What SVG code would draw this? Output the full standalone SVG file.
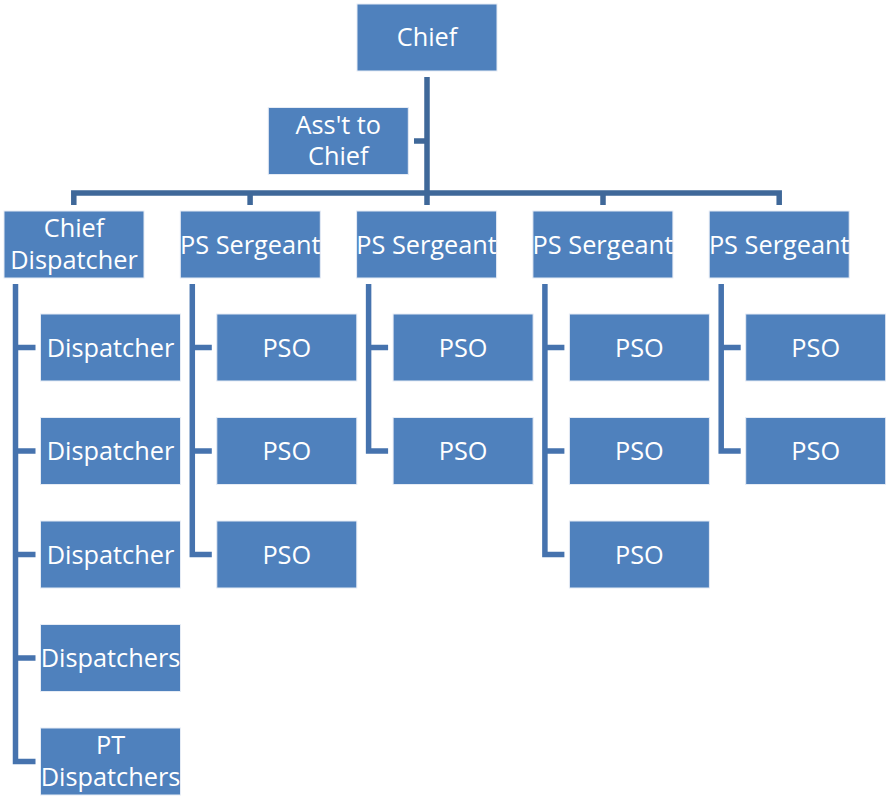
<svg xmlns="http://www.w3.org/2000/svg" width="886" height="796" viewBox="0 0 886 796">
<style>
.box{fill:#4F81BD;stroke:#E6ECF5;stroke-width:1}
.t{font-family:"Open Sans","Liberation Sans",sans-serif;font-size:25.3px;fill:#FFFFFF;text-anchor:middle;dominant-baseline:central}
.c1{fill:none;stroke:#3F6899;stroke-width:5.5}
.c2{fill:none;stroke:#4673AE;stroke-width:5.5}
</style>
<rect width="886" height="796" fill="#FFFFFF"/>
<g id="connectors">
<path class="c1" d="M427 77 V205 M73.8 205 V193 H779.2 V205 M250.1 193 V205 M603 193 V205 M414 141 H427"/>
<path class="c2" d="M15.5 284 V761.5 H35.5 M15.5 347.5 H35.5 M15.5 451 H35.5 M15.5 554.5 H35.5 M15.5 658 H35.5"/>
<path class="c2" d="M192.3 284 V554.5 H211.8 M192.3 347.5 H211.8 M192.3 451 H211.8"/>
<path class="c2" d="M368.6 284 V451 H388.1 M368.6 347.5 H388.1"/>
<path class="c2" d="M544.9 284 V554.5 H564.4 M544.9 347.5 H564.4 M544.9 451 H564.4"/>
<path class="c2" d="M721.2 284 V451 H740.7 M721.2 347.5 H740.7"/>
</g>
<g id="chief"><rect class="box" x="357" y="4" width="140" height="67"/><text class="t" x="427" y="36">Chief</text></g>
<g id="asst"><rect class="box" x="268.3" y="107.5" width="140" height="67"/><text class="t" x="338.3" y="124">Ass't to</text><text class="t" x="338.3" y="155">Chief</text></g>
<g id="chief-dispatcher"><rect class="box" x="4" y="211" width="140" height="67"/><text class="t" x="74" y="227">Chief</text><text class="t" x="74" y="259">Dispatcher</text></g>
<g id="sgt1"><rect class="box" x="180.3" y="211" width="140" height="67"/><text class="t" x="250.3" y="243.5">PS Sergeant</text></g>
<g id="sgt2"><rect class="box" x="356.6" y="211" width="140" height="67"/><text class="t" x="426.6" y="243.5">PS Sergeant</text></g>
<g id="sgt3"><rect class="box" x="532.9" y="211" width="140" height="67"/><text class="t" x="602.9" y="243.5">PS Sergeant</text></g>
<g id="sgt4"><rect class="box" x="709.2" y="211" width="140" height="67"/><text class="t" x="779.2" y="243.5">PS Sergeant</text></g>
<g id="disp1"><rect class="box" x="40.5" y="314" width="140" height="67"/><text class="t" x="110.5" y="346.5">Dispatcher</text></g>
<g id="disp2"><rect class="box" x="40.5" y="417.5" width="140" height="67"/><text class="t" x="110.5" y="450">Dispatcher</text></g>
<g id="disp3"><rect class="box" x="40.5" y="521" width="140" height="67"/><text class="t" x="110.5" y="553.5">Dispatcher</text></g>
<g id="disp4"><rect class="box" x="40.5" y="624.5" width="140" height="67"/><text class="t" x="110.5" y="657">Dispatchers</text></g>
<g id="disp5"><rect class="box" x="40.5" y="728" width="140" height="67"/><text class="t" x="110.5" y="744">PT</text><text class="t" x="110.5" y="776">Dispatchers</text></g>
<g id="pso1a"><rect class="box" x="216.8" y="314" width="140" height="67"/><text class="t" x="286.8" y="346.5">PSO</text></g>
<g id="pso1b"><rect class="box" x="216.8" y="417.5" width="140" height="67"/><text class="t" x="286.8" y="450">PSO</text></g>
<g id="pso1c"><rect class="box" x="216.8" y="521" width="140" height="67"/><text class="t" x="286.8" y="553.5">PSO</text></g>
<g id="pso2a"><rect class="box" x="393.1" y="314" width="140" height="67"/><text class="t" x="463.1" y="346.5">PSO</text></g>
<g id="pso2b"><rect class="box" x="393.1" y="417.5" width="140" height="67"/><text class="t" x="463.1" y="450">PSO</text></g>
<g id="pso3a"><rect class="box" x="569.4" y="314" width="140" height="67"/><text class="t" x="639.4" y="346.5">PSO</text></g>
<g id="pso3b"><rect class="box" x="569.4" y="417.5" width="140" height="67"/><text class="t" x="639.4" y="450">PSO</text></g>
<g id="pso3c"><rect class="box" x="569.4" y="521" width="140" height="67"/><text class="t" x="639.4" y="553.5">PSO</text></g>
<g id="pso4a"><rect class="box" x="745.7" y="314" width="140" height="67"/><text class="t" x="815.7" y="346.5">PSO</text></g>
<g id="pso4b"><rect class="box" x="745.7" y="417.5" width="140" height="67"/><text class="t" x="815.7" y="450">PSO</text></g>
</svg>
